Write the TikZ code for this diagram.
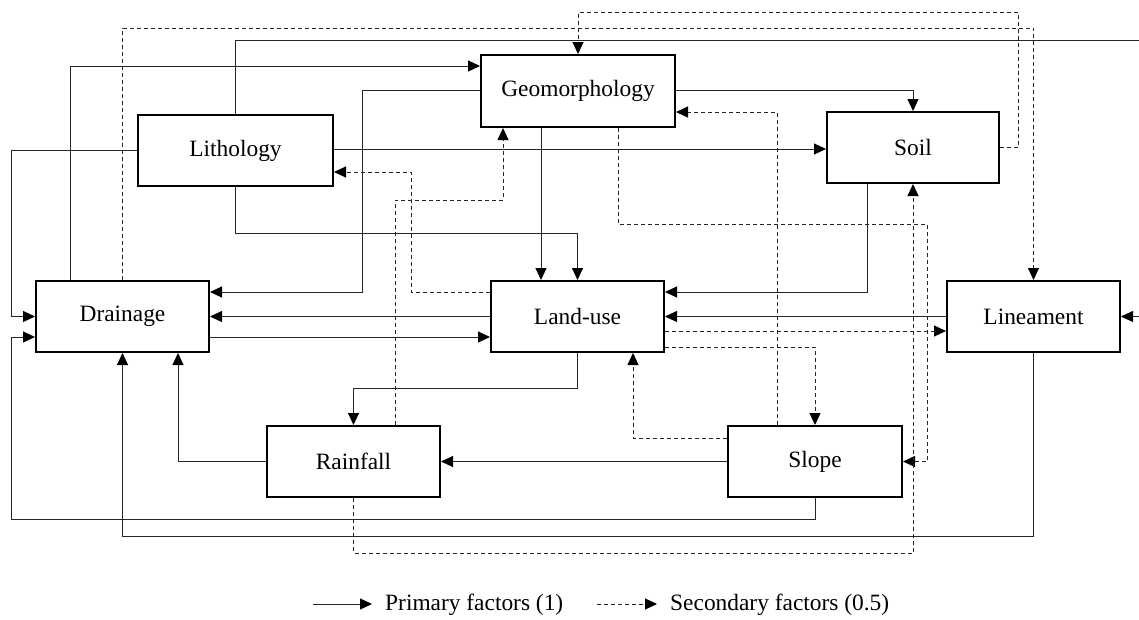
\documentclass[tikz,border=0pt]{standalone}
\usepackage{fontspec}
\setmainfont{Liberation Serif}
\usetikzlibrary{arrows.meta}
\begin{document}
\begin{tikzpicture}[x=1pt,y=-1pt,
  box/.style={draw=black,line width=2pt,fill=white,inner sep=0pt,minimum height=71pt,
    font=\fontsize{23.4}{28}\selectfont},
  prim/.style={line width=1pt,draw=black!85,-{Triangle[length=12pt,width=11pt,color=black]}},
  sec/.style={line width=1pt,draw=black!85,dash pattern=on 4pt off 3pt,-{Triangle[length=12pt,width=11pt,color=black]}},
  legtext/.style={anchor=west,inner sep=0pt,font=\fontsize{23.4}{28}\selectfont}]
\useasboundingbox (0,0) rectangle (1139,619);
\clip (0,0) rectangle (1139,619);
% boxes
\node[box,minimum width=195pt] (litho) at (235.5,150.5) {Lithology};
\node[box,minimum width=194pt,minimum height=72pt] (geo) at (578,91) {Geomorphology};
\node[box,minimum width=172pt] (soil) at (913,147.5) {Soil};
\node[box,minimum width=173pt] (drain) at (122.5,316.5) {Drainage};
\node[box,minimum width=173pt] (land) at (577.5,316.5) {Land-use};
\node[box,minimum width=173pt] (linea) at (1033.5,316.5) {Lineament};
\node[box,minimum width=173pt] (rain) at (353.5,461.5) {Rainfall};
\node[box,minimum width=174pt] (slope) at (815,461.5) {Slope};
% primary connectors
\draw[prim] (litho.north) |- (1150,40) |- (linea.east);
\draw[prim] (drain.north -| 70,0) |- (geo.west |- 0,66);
\draw[prim] (litho.west) -| (11,316.5) -- (drain.west);
\draw[prim] (geo.west |- 0,90) -| (362,292) -- (drain.east |- 0,292);
\draw[prim] (litho.east |- 0,149) -- (soil.west |- 0,149);
\draw[prim] (litho.south) |- (577.5,233) -- (land.north);
\draw[prim] (geo.south -| 541,0) -- (land.north -| 541,0);
\draw[prim] (geo.east |- 0,90) -| (soil.north);
\draw[prim] (soil.south -| 867,0) |- (land.east |- 0,292);
\draw[prim] (linea.west) -- (land.east);
\draw[prim] (land.west) -- (drain.east);
\draw[prim] (drain.east |- 0,337) -- (land.west |- 0,337);
\draw[prim] (land.south) |- (rain.north |- 0,388) -- (rain.north);
\draw[prim] (rain.west) -| (drain.south -| 178,0);
\draw[prim] (slope.west) -- (rain.east);
\draw[prim] (slope.south) |- (11,519) |- (drain.west |- 0,337);
\draw[prim] (linea.south) |- (drain.south |- 0,536) -- (drain.south);
% secondary connectors
\draw[sec] (drain.north) |- (linea.north |- 0,28) -- (linea.north);
\draw[sec] (soil.east) -| (1018,12) -| (geo.north);
\draw[sec] (land.west |- 0,292) -| (411,172) -- (litho.east |- 0,172);
\draw[sec] (rain.north -| 395,0) |- (503,200) -- (geo.south -| 503,0);
\draw[sec] (geo.south -| 618,0) |- (927,224) |- (slope.east);
\draw[sec] (slope.north -| 777,0) |- (geo.east |- 0,112);
\draw[sec] (land.east |- 0,331) -- (linea.west |- 0,331);
\draw[sec] (land.east |- 0,347) -| (slope.north);
\draw[sec] (slope.west |- 0,438) -| (land.south -| 633,0);
\draw[sec] (rain.south) |- (soil.south |- 0,553) -- (soil.south);
% legend
\coordinate (l1a) at (313,604);
\coordinate (l1b) at (372,604);
\coordinate (l2a) at (597,604);
\coordinate (l2b) at (657,604);
\draw[prim] (l1a) -- (l1b);
\draw[sec] (l2a) -- (l2b);
\node[legtext] (leg1) at (385,605) {Primary factors (1)};
\node[legtext] (leg2) at (670,605) {Secondary factors (0.5)};
\end{tikzpicture}
\end{document}
